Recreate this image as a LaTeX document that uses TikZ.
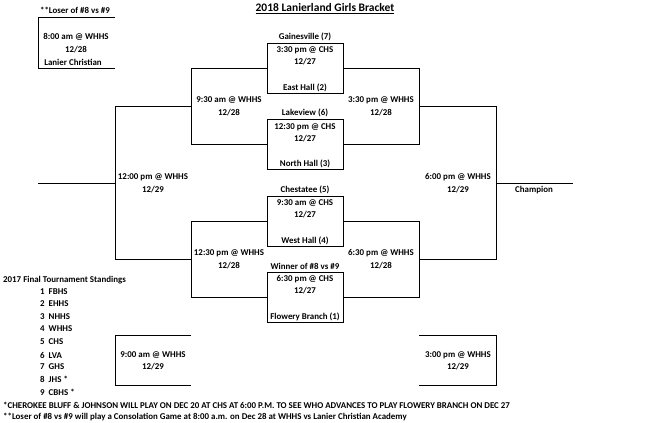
\documentclass[tikz,border=0pt]{standalone}
\usepackage{fontspec}
\setmainfont{Carlito}
\begin{document}
\begin{tikzpicture}[x=1pt,y=-1pt,
    txt/.style={font=\bfseries\fontsize{8.9}{10}\selectfont, inner sep=0pt},
    lft/.style={txt, anchor=west},
    ln/.style={line width=0.9pt}]

    \useasboundingbox (0,0) rectangle (649,423);

    % Title
    \node[txt, font=\bfseries\fontsize{11.5}{13}\selectfont] (title) at (325,9) {\underline{2018 Lanierland Girls Bracket}};

    % Consolation box (top left)
    \coordinate (c1) at (115,17); \coordinate (c2) at (38,17);
    \coordinate (c3) at (38,68); \coordinate (c4) at (115,68);
    \draw[ln] (c1) -- (c2) -- (c3) -- (c4);
    \node[txt] (cl) at (75,10) {**Loser of \#8 vs \#9};
    \node[txt] (ct) at (76,37) {8:00 am @ WHHS};
    \node[txt] (cd) at (76,50) {12/28};
    \node[txt] (cn) at (73,62) {Lanier Christian};

    % Quarterfinal boxes
    \foreach \top/\bot/\name in {43/93/qa,119/169/qb,196/246/qc,272/322/qd}
      \draw[ln] (267,\top) coordinate (\name1) rectangle (343,\bot) coordinate (\name2);

    \node[txt] (qat) at (305,37) {Gainesville (7)};
    \node[txt] (qa1t) at (305,50) {3:30 pm @ CHS};
    \node[txt] (qa2t) at (305,62) {12/27};
    \node[txt] (qab) at (305,88) {East Hall (2)};

    \node[txt] (qbt) at (305,113) {Lakeview (6)};
    \node[txt] (qb1t) at (305,127) {12:30 pm @ CHS};
    \node[txt] (qb2t) at (305,139) {12/27};
    \node[txt] (qbb) at (305,164) {North Hall (3)};

    \node[txt] (qct) at (305,190) {Chestatee (5)};
    \node[txt] (qc1t) at (305,203) {9:30 am @ CHS};
    \node[txt] (qc2t) at (305,215) {12/27};
    \node[txt] (qcb) at (305,241) {West Hall (4)};

    \node[txt] (qdt) at (305,266) {Winner of \#8 vs \#9};
    \node[txt] (qd1t) at (305,279) {6:30 pm @ CHS};
    \node[txt] (qd2t) at (305,291) {12/27};
    \node[txt] (qdb) at (305,317) {Flowery Branch (1)};

    % Semifinals
    \draw[ln] (267,68) -- (191,68) -- (191,144) -- (267,144);
    \draw[ln] (343,68) -- (419,68) -- (419,144) -- (343,144);
    \draw[ln] (267,221) -- (191,221) -- (191,297) -- (267,297);
    \draw[ln] (343,221) -- (419,221) -- (419,297) -- (343,297);
    \node[txt] (s1) at (229,100) {9:30 am @ WHHS};
    \node[txt] (s1d) at (229,113) {12/28};
    \node[txt] (s2) at (381,100) {3:30 pm @ WHHS};
    \node[txt] (s2d) at (381,113) {12/28};
    \node[txt] (s3) at (229,253) {12:30 pm @ WHHS};
    \node[txt] (s3d) at (229,266) {12/28};
    \node[txt] (s4) at (381,253) {6:30 pm @ WHHS};
    \node[txt] (s4d) at (381,266) {12/28};

    % Finals
    \draw[ln] (191,106) -- (115,106) -- (115,259) -- (191,259);
    \draw[ln] (38,183) -- (115,183);
    \draw[ln] (419,106) -- (496,106) -- (496,259) -- (419,259);
    \draw[ln] (496,183) -- (573,183);
    \node[txt] (f1) at (153,177) {12:00 pm @ WHHS};
    \node[txt] (f1d) at (153,190) {12/29};
    \node[txt] (f2) at (458,177) {6:00 pm @ WHHS};
    \node[txt] (f2d) at (458,190) {12/29};
    \node[txt] (champ) at (534,190) {Champion};

    % Lower boxes
    \draw[ln] (191,335) -- (115,335) -- (115,385) -- (191,385);
    \draw[ln] (419,335) -- (496,335) -- (496,385) -- (419,385);
    \node[txt] (b1) at (153,355) {9:00 am @ WHHS};
    \node[txt] (b1d) at (153,367) {12/29};
    \node[txt] (b2) at (458,355) {3:00 pm @ WHHS};
    \node[txt] (b2d) at (458,367) {12/29};

    % Standings
    \node[lft] (st) at (3,280) {2017 Final Tournament Standings};
    \foreach \y/\t [count=\i] in {292/FBHS,304/EHHS,317/NHHS,329/WHHS,342/CHS,355/LVA,367/GHS,379/JHS *,392/CBHS *}
      \node[lft] (st\i) at (40,\y) {\i\ \ \t};

    % Notes
    \node[lft] (n1) at (3,405) {*CHEROKEE BLUFF \& JOHNSON WILL PLAY ON DEC 20 AT CHS AT 6:00 P.M. TO SEE WHO ADVANCES TO PLAY FLOWERY BRANCH ON DEC 27};
    \node[lft] (n2) at (3,417) {**Loser of \#8 vs \#9 will play a Consolation Game at 8:00 a.m. on Dec 28 at WHHS vs Lanier Christian Academy};

\end{tikzpicture}
\end{document}
